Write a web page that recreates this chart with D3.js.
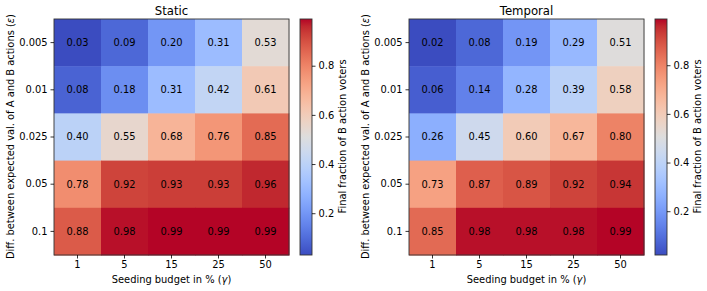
<!DOCTYPE html>
<html>
<head>
<meta charset="utf-8">
<script src="https://cdn.jsdelivr.net/npm/d3@7"></script>
<style>
  body { margin: 0; background: #fff; }
  svg, svg text { font-family: "DejaVu Sans", sans-serif; }
  .tick line { stroke: #000; stroke-width: 0.8; }
  .domain { display: none; }
</style>
</head>
<body>
<svg id="chart" width="707" height="291"></svg>
<script>
// budgets (columns) and epsilon values (rows)
const budgets = ["1", "5", "15", "25", "50"];
const epsilons = ["0.005", "0.01", "0.025", "0.05", "0.1"];
const cbTicks = [0.2, 0.4, 0.6, 0.8];

// rows follow epsilons, columns follow budgets
const staticValues = [
  [0.03, 0.09, 0.20, 0.31, 0.53],
  [0.08, 0.18, 0.31, 0.42, 0.61],
  [0.40, 0.55, 0.68, 0.76, 0.85],
  [0.78, 0.92, 0.93, 0.93, 0.96],
  [0.88, 0.98, 0.99, 0.99, 0.99]
];
const temporalValues = [
  [0.02, 0.08, 0.19, 0.29, 0.51],
  [0.06, 0.14, 0.28, 0.39, 0.58],
  [0.26, 0.45, 0.60, 0.67, 0.80],
  [0.73, 0.87, 0.89, 0.92, 0.94],
  [0.85, 0.98, 0.98, 0.98, 0.99]
];

// matplotlib coolwarm, sampled
const coolwarm = [
  [59,76,192],[68,90,204],[77,104,215],[87,117,225],[98,130,234],[108,142,241],
  [119,154,247],[130,165,251],[141,176,254],[152,185,255],[163,194,255],[174,201,253],
  [184,208,249],[194,213,244],[204,217,238],[213,219,230],[221,221,221],[229,216,209],
  [236,211,197],[241,204,185],[245,196,173],[247,187,160],[247,177,148],[247,166,135],
  [244,154,123],[241,141,111],[236,127,99],[229,112,88],[222,96,77],[213,80,66],
  [203,62,56],[192,40,47],[180,4,38]
].map(c => d3.rgb(c[0], c[1], c[2]).toString());
const coolwarmInterp = d3.piecewise(d3.interpolateRgb, coolwarm);

const svg = d3.select("#chart");
const defs = svg.append("defs");
const FS = 9.9;

function styleAxis(sel) {
  sel.attr("font-family", "DejaVu Sans, sans-serif").attr("font-size", FS);
  sel.selectAll(".tick text").attr("fill", "#000");
}

// label with an italic greek symbol in parentheses, like mathtext
function mathLabel(text, pre, sym) {
  text.append("tspan").text(pre + " (");
  text.append("tspan").attr("font-style", "italic").text(sym);
  text.append("tspan").text(")");
}

function drawPanel(opts) {
  const {x0, title, values, id} = opts;
  const top = 19, size = 235;
  const flat = values.flat();
  const vmin = d3.min(flat), vmax = d3.max(flat);
  const color = v => coolwarmInterp((v - vmin) / (vmax - vmin));

  const x = d3.scaleBand().domain(budgets).range([x0, x0 + size]);
  const y = d3.scaleBand().domain(epsilons).range([top, top + size + 1]);

  const g = svg.append("g");

  const cells = [];
  values.forEach((row, i) => row.forEach((v, j) => cells.push({r: epsilons[i], c: budgets[j], v})));

  g.selectAll("rect.cell").data(cells).enter().append("rect")
    .attr("class", "cell")
    .attr("x", d => x(d.c))
    .attr("y", d => y(d.r))
    .attr("width", x.bandwidth() + 0.5)
    .attr("height", y.bandwidth() + 0.5)
    .attr("fill", d => color(d.v));

  g.selectAll("text.val").data(cells).enter().append("text")
    .attr("class", "val")
    .attr("x", d => x(d.c) + x.bandwidth() / 2)
    .attr("y", d => y(d.r) + y.bandwidth() / 2)
    .attr("dy", "0.35em")
    .attr("text-anchor", "middle")
    .attr("font-size", FS)
    .attr("fill", "#000")
    .text(d => d.v.toFixed(2));

  g.append("rect")
    .attr("x", x0).attr("y", top)
    .attr("width", size).attr("height", size + 1)
    .attr("fill", "none").attr("stroke", "#333").attr("stroke-width", 0.9);

  g.append("g")
    .attr("transform", `translate(${x0},0)`)
    .call(d3.axisLeft(y).tickSize(3.5).tickPadding(3))
    .call(styleAxis);
  g.append("g")
    .attr("transform", `translate(0,${top + size + 1})`)
    .call(d3.axisBottom(x).tickSize(3.5).tickPadding(2.5))
    .call(styleAxis);

  g.append("text")
    .attr("x", x0 + size / 2).attr("y", 15)
    .attr("text-anchor", "middle")
    .attr("font-size", 11.7)
    .text(title);

  g.append("text")
    .attr("x", x0 + size / 2).attr("y", 283)
    .attr("text-anchor", "middle")
    .attr("font-size", FS)
    .call(mathLabel, "Seeding budget in %", "γ");

  g.append("text")
    .attr("transform", `translate(${x0 - 40},${top + size / 2}) rotate(-90)`)
    .attr("text-anchor", "middle")
    .attr("font-size", FS)
    .call(mathLabel, "Diff. between expected val. of A and B actions", "ε");

  // colorbar
  const cbx = x0 + size + 11, cbw = 12;
  const cy = d3.scaleLinear().domain([vmin, vmax]).range([top + size + 1, top]);
  const grad = defs.append("linearGradient")
    .attr("id", id).attr("x1", 0).attr("y1", 1).attr("x2", 0).attr("y2", 0);
  coolwarm.forEach((c, i) => {
    grad.append("stop").attr("offset", i / (coolwarm.length - 1)).attr("stop-color", c);
  });
  g.append("rect")
    .attr("x", cbx).attr("y", top)
    .attr("width", cbw).attr("height", size + 1)
    .attr("fill", `url(#${id})`)
    .attr("stroke", "#333").attr("stroke-width", 0.9);
  g.append("g")
    .attr("transform", `translate(${cbx + cbw},0)`)
    .call(d3.axisRight(cy).tickValues(cbTicks).tickFormat(d3.format(".1f")).tickSize(3.5).tickPadding(3))
    .call(styleAxis);
  g.append("text")
    .attr("transform", `translate(${cbx + cbw + 34},${top + size / 2}) rotate(-90)`)
    .attr("text-anchor", "middle")
    .attr("font-size", FS)
    .text("Final fraction of B action voters");
}

drawPanel({x0: 54, title: "Static", values: staticValues, id: "cbStatic"});
drawPanel({x0: 409, title: "Temporal", values: temporalValues, id: "cbTemporal"});
</script>
</body>
</html>
